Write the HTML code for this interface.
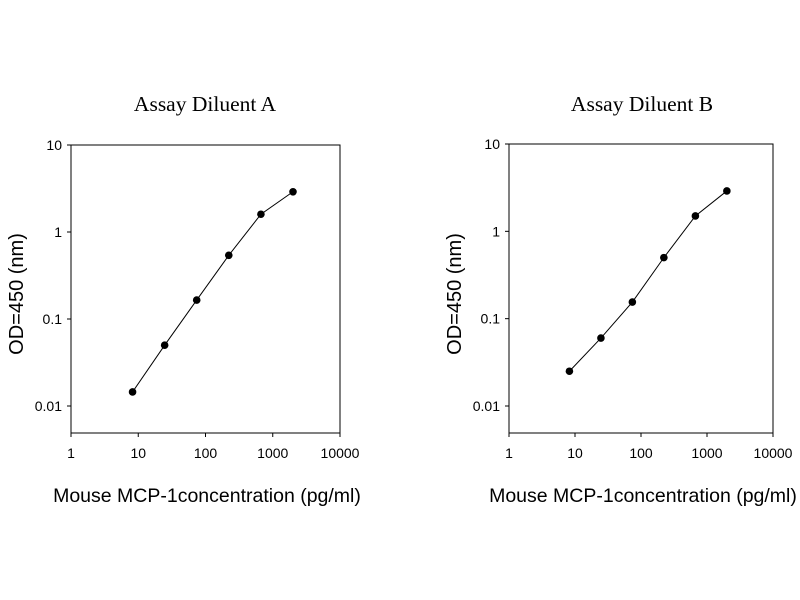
<!DOCTYPE html>
<html><head><meta charset="utf-8"><style>
html,body{margin:0;padding:0;background:#fff;}
svg{display:block;}
</style></head><body>
<svg id="chart" width="800" height="600" xmlns="http://www.w3.org/2000/svg"></svg>
<script>
const concentrations = [8.23, 24.7, 74, 222, 667, 2000];
const odDiluentA = [0.0145, 0.05, 0.165, 0.54, 1.6, 2.9];
const odDiluentB = [0.025, 0.06, 0.155, 0.5, 1.5, 2.9];
const xTickValues = [1, 10, 100, 1000, 10000];
const xTickLabels = ["1", "10", "100", "1000", "10000"];
const yTickValues = [0.01, 0.1, 1, 10];
const yTickLabels = ["0.01", "0.1", "1", "10"];
const panelTitles = ["Assay Diluent A", "Assay Diluent B"];

const NS = "http://www.w3.org/2000/svg";
const svg = document.getElementById("chart");
function mk(tag, attrs, parent){
  const e = document.createElementNS(NS, tag);
  for (const k in attrs) e.setAttribute(k, attrs[k]);
  parent.appendChild(e);
  return e;
}
const panels = [
  {l:71, r:340, t:145, b:433, y10:145, y001:406, title:panelTitles[0], data:odDiluentA, yl:23, xc:207, tc:205},
  {l:509, r:773, t:144, b:433, y10:144, y001:406, title:panelTitles[1], data:odDiluentB, yl:461, xc:643, tc:642}
];
panels.forEach((p, pi) => {
  const g = mk("g", {}, svg);
  
  
  const xs = v => p.l + (Math.log10(v) - 0) / 4 * (p.r - p.l);
  const ys = v => p.y10 + (1 - Math.log10(v)) / 3 * (p.y001 - p.y10);
  const frame = mk("rect", {x:p.l, y:p.t, width:p.r-p.l, height:p.b-p.t, fill:"none", stroke:"#000", "stroke-width":1}, g);
  
  
  const title = mk("text", {x:p.tc, y:111, "text-anchor":"middle", "font-family":"Liberation Serif, serif", "font-size":21.5}, g);
  title.textContent = p.title;
  
  
  xTickValues.forEach((v, i) => {
    const x = xs(v);
    const t = mk("line", {x1:x, x2:x, y1:p.b, y2:p.b+4, stroke:"#000"}, g);
    
    
    const tx = mk("text", {x:x, y:p.b+25, "text-anchor":"middle", "font-family":"Liberation Sans, sans-serif", "font-size":14}, g);
    tx.textContent = xTickLabels[i];
    
    
  });
  yTickValues.forEach((v, i) => {
    const y = ys(v);
    const t = mk("line", {x1:p.l-4, x2:p.l, y1:y, y2:y, stroke:"#000"}, g);
    
    
    const tx = mk("text", {x:p.l-9, y:y+5, "text-anchor":"end", "font-family":"Liberation Sans, sans-serif", "font-size":14}, g);
    tx.textContent = yTickLabels[i];
    
    
  });
  const yt = mk("text", {x:0, y:0, transform:"translate(" + p.yl + ",294) rotate(-90)", "text-anchor":"middle", "font-family":"Liberation Sans, sans-serif", "font-size":20}, g);
  yt.textContent = "OD=450 (nm)";
  
  
  const xt = mk("text", {x:p.xc, y:502, "text-anchor":"middle", "font-family":"Liberation Sans, sans-serif", "font-size":19.5}, g);
  xt.textContent = "Mouse MCP-1concentration (pg/ml)";
  
  
  const pts = concentrations.map((c, i) => xs(c) + "," + ys(p.data[i])).join(" ");
  const line = mk("polyline", {points:pts, fill:"none", stroke:"#000", "stroke-width":1}, g);
  
  
  concentrations.forEach((c, i) => {
    const d = mk("circle", {cx:xs(c), cy:ys(p.data[i]), r:3.8, fill:"#000"}, g);
    
    
  });
});
</script>
</body></html>
